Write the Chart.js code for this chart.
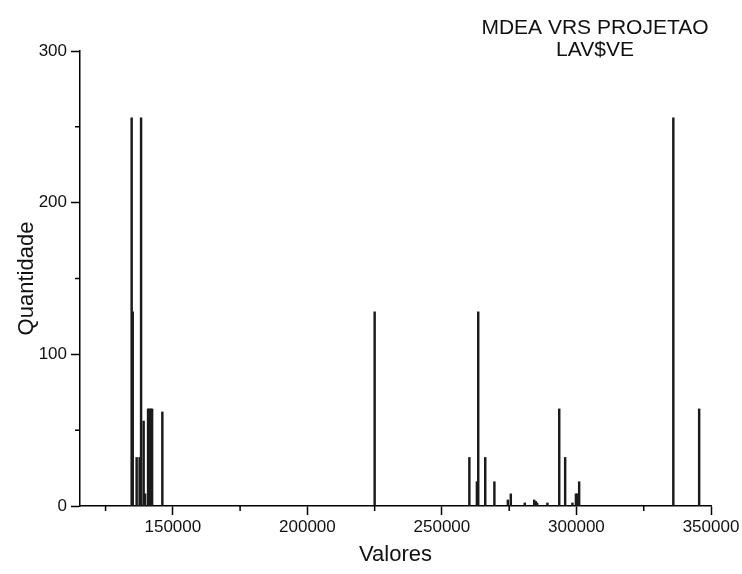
<!DOCTYPE html>
<html>
<head>
<meta charset="utf-8">
<script src="https://cdn.jsdelivr.net/npm/chart.js@4"></script>
<style>
  html, body { margin: 0; padding: 0; background: #fff; }
  #wrap { width: 742px; height: 574px; }
</style>
</head>
<body>
<div id="wrap"><canvas id="chart" width="742" height="574"></canvas></div>
<script>
// values
const valores = [134700, 135100, 136550, 137650, 138200, 139150, 139700, 140800, 141300, 141800, 142300, 146100,
  225000,
  260200, 263000, 263500, 266100, 269500, 274500, 275600, 280800, 284300, 284900, 285400, 289200,
  293600, 295800, 298500, 299800, 300200, 301000, 336000, 345600];
const quantidade = [256, 128, 32, 32, 256, 56, 8, 64, 64, 64, 64, 62,
  128,
  32, 16, 128, 32, 16, 4, 8, 2, 4, 3, 2, 2,
  64, 32, 2, 8, 8, 16, 256, 64];
const xTicks = [150000, 200000, 250000, 300000, 350000];
const xMinor = [125000, 175000, 225000, 275000, 325000];
const yTicks = [0, 100, 200, 300];
const yMinor = [50, 150, 250];
const titleLines = ['MDEA VRS PROJETAO', 'LAV$VE'];

const FONT = "'Liberation Sans', Arial, sans-serif";

// short minor ticks + the title text
const extras = {
  id: 'extras',
  afterDraw(chart) {
    const ctx = chart.ctx;
    const x = chart.scales.x, y = chart.scales.y;
    ctx.save();
    ctx.strokeStyle = '#000';
    ctx.lineWidth = 1.5;
    ctx.beginPath();
    xMinor.forEach(v => {
      const px = x.getPixelForValue(v);
      ctx.moveTo(px, y.bottom);
      ctx.lineTo(px, y.bottom + 5);
    });
    yMinor.forEach(v => {
      const py = y.getPixelForValue(v);
      ctx.moveTo(x.left, py);
      ctx.lineTo(x.left - 5, py);
    });
    ctx.stroke();
    ctx.fillStyle = '#111';
    ctx.font = '21px ' + FONT;
    ctx.textAlign = 'center';
    ctx.textBaseline = 'middle';
    titleLines.forEach((t, i) => ctx.fillText(t, 595, 28 + i * 22));
    ctx.restore();
  }
};

document.addEventListener('DOMContentLoaded', function() {
  const ctx = document.getElementById('chart').getContext('2d');
  new Chart(ctx, {
    type: 'bar',
    data: {
      datasets: [{
        data: valores.map((v, i) => ({ x: v, y: quantidade[i] })),
        backgroundColor: '#1a1a1a',
        borderWidth: 0,
        barThickness: 1.8,
        grouped: false
      }]
    },
    options: {
      responsive: false,
      animation: false,
      layout: { padding: { top: 51, right: 31, left: 0, bottom: 0 } },
      plugins: { legend: { display: false }, tooltip: { enabled: false } },
      scales: {
        x: {
          type: 'linear',
          offset: false,
          min: 115500,
          max: 350000,
          afterBuildTicks: s => { s.ticks = xTicks.map(v => ({ value: v })); },
          afterFit: s => { s.height = 68; },
          grid: { offset: false, drawOnChartArea: false, tickLength: 9, tickWidth: 1.5, tickColor: '#000' },
          border: { color: '#000', width: 1.5 },
          ticks: { color: '#111', font: { family: FONT, size: 17 }, padding: 2, maxRotation: 0, callback: v => String(v) },
          title: { display: true, text: 'Valores', color: '#111', font: { family: FONT, size: 22 }, padding: { top: 0, bottom: 6 } }
        },
        y: {
          min: 0,
          max: 300,
          afterBuildTicks: s => { s.ticks = yTicks.map(v => ({ value: v })); },
          afterFit: s => { s.width = 80; },
          grid: { drawOnChartArea: false, tickLength: 9, tickWidth: 1.5, tickColor: '#000' },
          border: { color: '#000', width: 1.5 },
          ticks: { color: '#111', font: { family: FONT, size: 17 }, padding: 4 },
          title: { display: true, text: 'Quantidade', color: '#111', font: { family: FONT, size: 22 }, padding: { top: 14, bottom: 0 } }
        }
      }
    },
    plugins: [extras]
  });
});
</script>
</body>
</html>
